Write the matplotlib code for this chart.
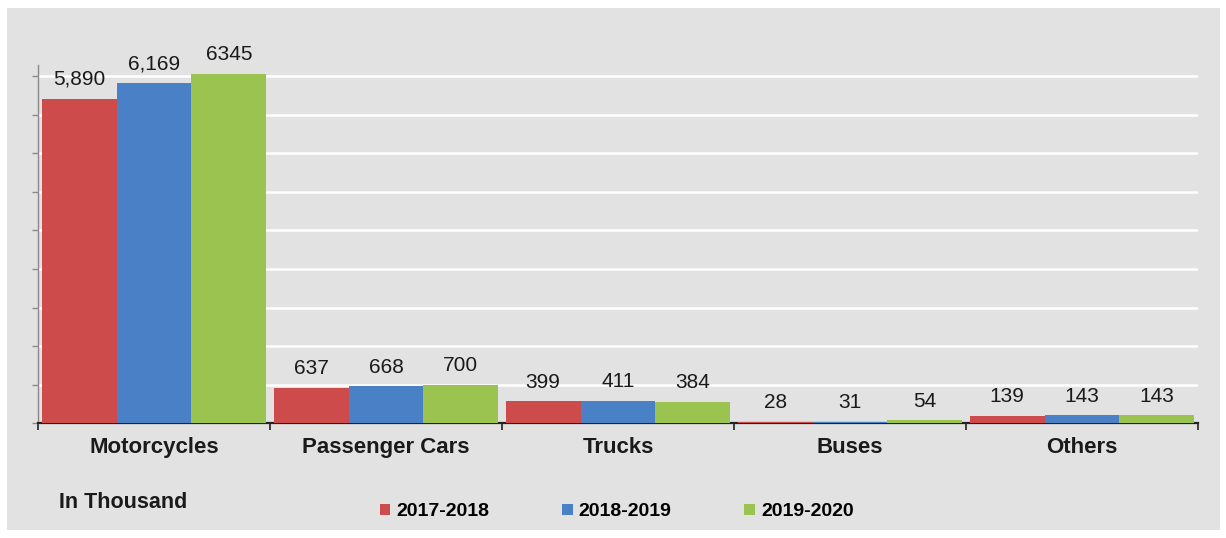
import numpy as np
import matplotlib
matplotlib.use("Agg")
import matplotlib.pyplot as plt
from matplotlib.patches import Rectangle, Patch

plt.rcParams["font.family"] = ["Liberation Sans", "DejaVu Sans"]

# -----------------------------------------------------------------------------
# Data (in thousand units)
# -----------------------------------------------------------------------------
categories = ["Motorcycles", "Passenger Cars", "Trucks", "Buses", "Others"]
years = ["2017-2018", "2018-2019", "2019-2020"]

sales_1718 = [5890, 637, 399, 28, 139]
sales_1819 = [6169, 668, 411, 31, 143]
sales_1920 = [6345, 700, 384, 54, 143]

labels_1718 = ["5,890", "637", "399", "28", "139"]
labels_1819 = ["6,169", "668", "411", "31", "143"]
labels_1920 = ["6345", "700", "384", "54", "143"]

colors = ["#cd4b4b", "#4a80c6", "#9bc34f"]

# -----------------------------------------------------------------------------
# Figure and background panel
# -----------------------------------------------------------------------------
fig = plt.figure(figsize=(12.26, 5.38), dpi=100)
fig.patch.set_facecolor("white")
fig.patches.append(Rectangle((7 / 1226, 8 / 538), 1213 / 1226, 522 / 538,
                             transform=fig.transFigure, facecolor="#e2e2e2",
                             edgecolor="none", zorder=-10))

ax = fig.add_axes([38 / 1226, 114.7 / 538, 1160 / 1226, 358.3 / 538])
ax.set_zorder(1)
ax.set_facecolor("none")

x = np.arange(len(categories))
width = 0.323
series = [sales_1718, sales_1819, sales_1920]
texts = [labels_1718, labels_1819, labels_1920]

for k, (vals, labs, col) in enumerate(zip(series, texts, colors)):
    bars = ax.bar(x + (k - 1) * width, vals, width, color=col, zorder=3)
    ax.bar_label(bars, labels=labs, padding=7, fontsize=15, color="#1a1a1a")

# -----------------------------------------------------------------------------
# Axes styling
# -----------------------------------------------------------------------------
ax.set_xlim(-0.5, len(categories) - 0.5)
ax.set_ylim(0, 6500)

ax.set_yticks(np.arange(0, 6301, 700))
ax.set_yticklabels([])
ax.yaxis.grid(True, color="white", linewidth=1.8, zorder=1)
ax.set_axisbelow(True)
ax.tick_params(axis="y", direction="out", length=4, color="#8a8a8a", width=1)

ax.set_xticks(x)
ax.set_xticklabels(categories, fontsize=16, fontweight="bold", color="#1a1a1a")
ax.set_xticks(np.arange(-0.5, len(categories), 1), minor=True)
ax.tick_params(axis="x", which="major", length=0, pad=10)
ax.tick_params(axis="x", which="minor", length=5, direction="out",
               color="#222222", width=1.2)

for side in ["top", "right"]:
    ax.spines[side].set_visible(False)
ax.spines["left"].set_color("#8a8a8a")
ax.spines["left"].set_linewidth(1)
ax.spines["bottom"].set_color("#222222")
ax.spines["bottom"].set_linewidth(1.6)

# -----------------------------------------------------------------------------
# Unit note and legend
# -----------------------------------------------------------------------------
fig.text(59 / 1226, 1 - 502 / 538, "In Thousand", fontsize=15.5,
         fontweight="bold", va="center", ha="left", color="#1a1a1a")

handles = [Patch(facecolor=c, edgecolor="none") for c in colors]
fig.legend(handles, years, loc="center", bbox_to_anchor=(0.503, 1 - 512 / 538),
           ncol=3, frameon=False, handlelength=0.55, handleheight=0.55,
           handletextpad=0.3, columnspacing=3.75,
           prop={"size": 14, "weight": "bold"})

fig.savefig("out.png", dpi=100, facecolor=fig.get_facecolor())
